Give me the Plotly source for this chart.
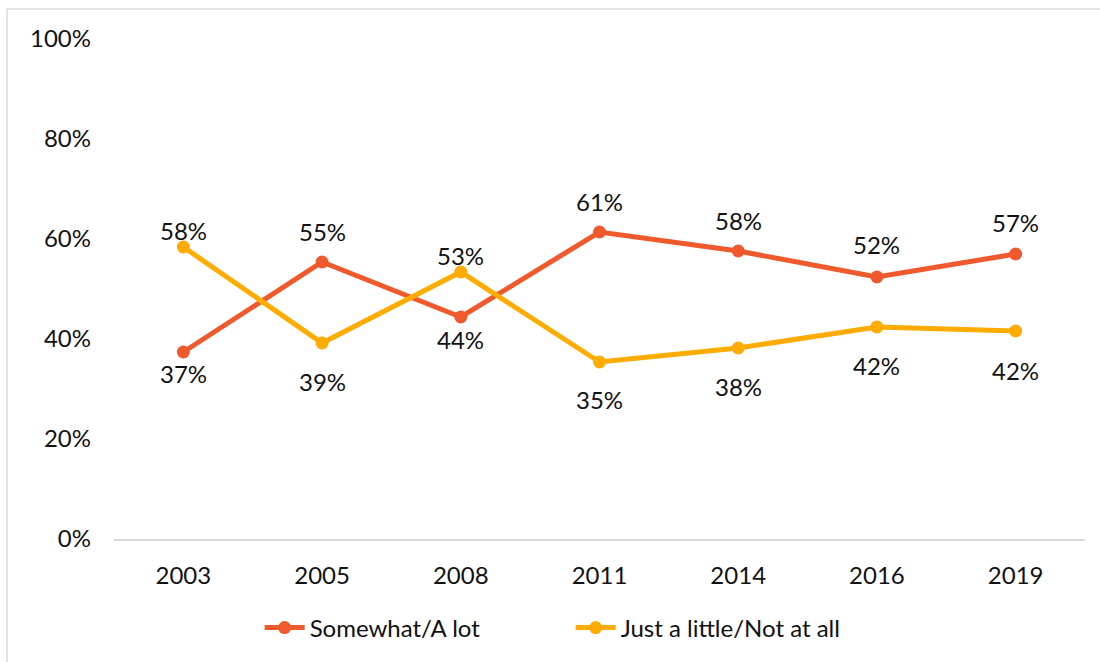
import plotly.graph_objects as go

# ---- data ----
years = ["2003", "2005", "2008", "2011", "2014", "2016", "2019"]
somewhat_a_lot = [37.4, 55.4, 44.4, 61.4, 57.6, 52.4, 57.0]
little_not_at_all = [58.4, 39.2, 53.4, 35.4, 38.2, 42.4, 41.6]
series_names = ["Somewhat/A lot", "Just a little/Not at all"]
y_ticks = [0, 20, 40, 60, 80, 100]
y_tick_text = [f"{t}&#37;" for t in y_ticks]

# ---- style ----
RED = "#F0592B"
YELLOW = "#FFAB00"
FONT = "Lato, sans-serif"
TXT = "#111111"
red_label_shift = [-21, 31, -22, 31, 31, 33, 32]
yellow_label_shift = [17, -38, 17, -37, -38, -38, -39]

fig = go.Figure()
for name, vals, col in [(series_names[0], somewhat_a_lot, RED),
                        (series_names[1], little_not_at_all, YELLOW)]:
    fig.add_trace(go.Scatter(
        x=years, y=vals, name=name, mode="lines+markers",
        line=dict(color=col, width=5),
        marker=dict(color=col, size=13),
        hoverinfo="skip",
    ))

# data labels (category axis: annotation x is the category's serial index)
for vals, shifts in [(somewhat_a_lot, red_label_shift), (little_not_at_all, yellow_label_shift)]:
    for i, (v, s) in enumerate(zip(vals, shifts)):
        fig.add_annotation(
            x=i, y=v, xref="x", yref="y", text=f"{int(v + 0.5)}&#37;",
            showarrow=False, yshift=s, font=dict(family=FONT, size=24, color=TXT),
        )

border = "#D9D9D9"
fig.add_shape(type="line", xref="paper", yref="paper", x0=-0.1102, x1=1.02, y0=1.060, y1=1.060,
              line=dict(color=border, width=1.5))
fig.add_shape(type="line", xref="paper", yref="paper", x0=-0.1102, x1=-0.1102, y0=1.060, y1=-0.25,
              line=dict(color=border, width=1.5))

fig.update_layout(
    width=1100, height=662,
    margin=dict(l=114, r=15, t=39, b=120),
    paper_bgcolor="white", plot_bgcolor="white",
    font=dict(family=FONT, size=24, color=TXT),
    showlegend=True,
    legend=dict(orientation="h", x=0.150, xanchor="left", y=-0.178, yanchor="middle",
                font=dict(family=FONT, size=24, color=TXT),
                entrywidth=256, entrywidthmode="pixels", itemwidth=40),
    xaxis=dict(type="category", range=[-0.5, 6.5], showgrid=False, zeroline=False,
               showline=True, linecolor=border, linewidth=1.5, ticks="",
               ticklabelstandoff=14, tickfont=dict(family=FONT, size=24, color=TXT)),
    yaxis=dict(range=[0, 100], tickvals=y_ticks, ticktext=y_tick_text, showgrid=False,
               zeroline=False, showline=False, ticks="", ticklabelstandoff=22,
               tickfont=dict(family=FONT, size=24, color=TXT)),
)

fig.write_html("out.html", config={"displayModeBar": False},
               post_script="document.body.style.margin='0';")
